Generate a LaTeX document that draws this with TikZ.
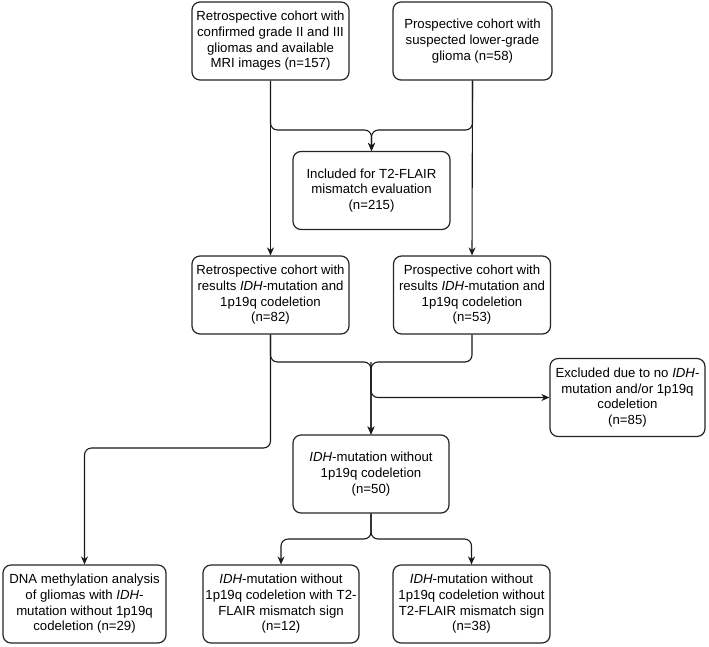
\documentclass[tikz,border=0pt]{standalone}
\usepackage{fontspec}
\setmainfont{Liberation Sans}
\usetikzlibrary{arrows.meta}
\begin{document}
\begin{tikzpicture}[x=1pt,y=1pt,
  box/.style={draw=black!85, line width=1.2pt, rounded corners=8pt, fill=white,
    minimum width=157pt, minimum height=78pt, inner sep=1pt, align=center,
    font=\fontsize{13.2}{15.7}\selectfont},
  conn/.style={draw=black!90, line width=1.1pt, rounded corners=7pt},
  arr/.style={conn, -{Stealth[length=8pt,width=7pt]}}]
\useasboundingbox (0,0) rectangle (709,-646);

\node[box] (A) at (270.5,-41) {Retrospective cohort with\\confirmed grade II and III\\gliomas and available\\MRI images (n=157)};
\node[box, minimum width=159pt] (B) at (472.5,-41) {Prospective cohort with\\suspected lower-grade\\glioma (n=58)};
\node[box] (C) at (371.5,-190.5) {Included for T2-FLAIR\\mismatch evaluation\\(n=215)};
\node[box] (D) at (270.5,-295) {Retrospective cohort with\\results \textit{IDH}-mutation and\\1p19q codeletion\\(n=82)};
\node[box] (E) at (472,-295) {Prospective cohort with\\results \textit{IDH}-mutation and\\1p19q codeletion\\(n=53)};
\node[box, minimum width=156pt] (F) at (371,-474) {\textit{IDH}-mutation without\\1p19q codeletion\\(n=50)};
\node[box, minimum width=155pt] (G) at (627.5,-397.5) {Excluded due to no \textit{IDH}-\\mutation and/or 1p19q\\codeletion\\(n=85)};
\node[box, minimum width=163pt] (H) at (84.5,-604) {DNA methylation analysis\\of gliomas with \textit{IDH}-\\mutation without 1p19q\\codeletion (n=29)};
\node[box, minimum width=156pt] (I) at (281,-604) {\textit{IDH}-mutation without\\1p19q codeletion with T2-\\FLAIR mismatch sign\\(n=12)};
\node[box] (J) at (471.5,-604) {\textit{IDH}-mutation without\\1p19q codeletion without\\T2-FLAIR mismatch sign\\(n=38)};

\coordinate (m1) at (371.5,-130);
\coordinate (m2) at (371,-362);
\coordinate (hb) at (84.5,-448);
\coordinate (fi) at (281,-539);
\coordinate (fj) at (471.5,-539);

% top merge into C
\draw[arr] (A.south) |- (m1) -- (C.north);
\draw[arr] (B.south) |- (m1) -- (C.north);
% straight down to D and E
\draw[arr] (A.south) -- (D.north);
\draw[arr] (B.south) -- (E.north);
% merge into F
\draw[arr] (D.south) |- (m2) -- (F.north);
\draw[arr] (E.south) |- (m2) -- (F.north);
% branch to G
\draw[arr] (m2) |- (G.west);
% D to H
\draw[arr] (D.south) |- (hb) -- (H.north);
% F split
\draw[arr] (F.south) |- (fi) -- (I.north);
\draw[arr] (F.south) |- (fj) -- (J.north);
\end{tikzpicture}
\end{document}
